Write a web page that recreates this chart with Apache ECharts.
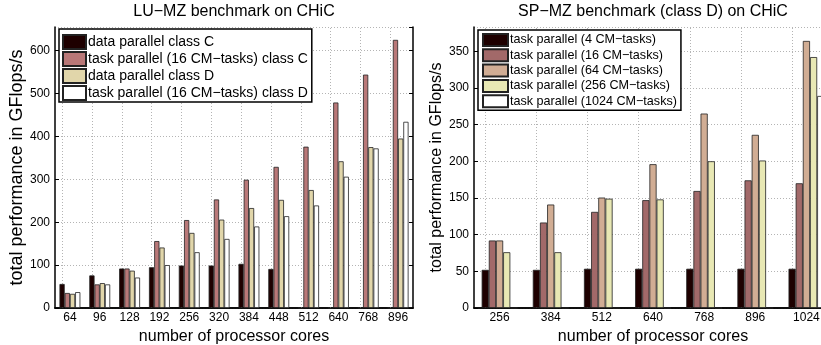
<!DOCTYPE html>
<html>
<head>
<meta charset="utf-8">
<script src="https://cdn.jsdelivr.net/npm/echarts@6/dist/echarts.min.js"></script>
<style>
html, body { margin: 0; padding: 0; background: #fff; }
#main { width: 821px; height: 345px; }
</style>
</head>
<body>
<div id="main"></div>
<script>
// LU-MZ (left)
const luCores = ['64', '96', '128', '192', '256', '320', '384', '448', '512', '640', '768', '896'];
const luDataC = [56, 76, 92, 95, 99, 99, 103, 91, 0, 0, 0, 0];
const luTaskC = [35, 55, 92, 156, 205, 253, 299, 329, 376, 479, 544, 625];
const luDataD = [33, 58, 87, 141, 175, 206, 233, 252, 275, 342, 375, 395];
const luTaskD = [37, 55, 71, 100, 130, 161, 190, 214, 239, 306, 372, 434];
const luNames = ['data parallel class C', 'task parallel (16 CM−tasks) class C', 'data parallel class D', 'task parallel (16 CM−tasks) class D'];

// SP-MZ (right)
const spCores = ['256', '384', '512', '640', '768', '896', '1024'];
const sp4 = [52, 52, 53.5, 53.5, 53.5, 53.5, 53.5];
const sp16 = [92, 116.5, 131, 147, 159.5, 174, 170];
const sp64 = [92, 141, 150.5, 196, 265, 236, 364];
const sp256 = [76, 76, 149, 148, 200, 201, 342];
const sp1024 = [0, 0, 0, 0, 0, 0, 289];
const spNames = ['task parallel (4 CM−tasks)', 'task parallel (16 CM−tasks)', 'task parallel (64 CM−tasks)', 'task parallel (256 CM−tasks)', 'task parallel (1024 CM−tasks)'];

const FONT = 'Liberation Sans';
const GRID_LINE = { color: '#b4b4b4', type: [1, 2], width: 1 };
const luColors = ['#1e0000', '#b97878', '#e1d6aa', '#ffffff'];
const spColors = ['#1e0000', '#a26969', '#d1ad94', '#e8e8b4', '#ffffff'];

const xAxes = (grid, cats) => [
	{
		type: 'category', gridIndex: grid, data: cats, position: 'bottom',
		axisLine: { lineStyle: { color: '#000', width: 1.5 } },
		axisTick: { inside: true, alignWithLabel: true, length: 4, interval: 0, lineStyle: { color: '#000' } },
		axisLabel: { color: '#000', fontSize: 12, fontFamily: FONT, margin: 4, interval: 0 },
		splitLine: { show: false },
		name: 'number of processor cores', nameLocation: 'middle', nameGap: 17,
		nameTextStyle: { color: '#000', fontSize: 16, fontFamily: FONT }
	},
	{
		type: 'category', gridIndex: grid, data: cats, position: 'top',
		axisLine: { lineStyle: { color: '#000', width: 1.5 } },
		axisTick: { inside: true, alignWithLabel: true, length: 4, interval: 0, lineStyle: { color: '#000' } },
		axisLabel: { show: false },
		splitLine: { show: false }
	}
];

const yAxes = (grid, max, step, nameSize, gap) => [
	{
		type: 'value', gridIndex: grid, min: 0, max: max, interval: step, position: 'left',
		axisLine: { show: true, lineStyle: { color: '#000', width: 1.5 } },
		axisTick: { show: true, inside: true, length: 4, lineStyle: { color: '#000' } },
		axisLabel: { color: '#000', fontSize: 12, fontFamily: FONT, margin: 5, showMaxLabel: false },
		splitLine: { show: true, lineStyle: GRID_LINE },
		name: 'total performance in GFlops/s', nameLocation: 'middle', nameGap: gap,
		nameTextStyle: { color: '#000', fontSize: nameSize, fontFamily: FONT }
	},
	{
		type: 'value', gridIndex: grid, min: 0, max: max, interval: step, position: 'right',
		axisLine: { show: true, lineStyle: { color: '#000', width: 1.5 } },
		axisTick: { show: true, inside: true, length: 4, lineStyle: { color: '#000' } },
		axisLabel: { show: false },
		splitLine: { show: false }
	}
];

// dotted vertical grid lines through the category centres (matlab style)
const centreLines = (cats) => ({
	silent: true, symbol: 'none', z: 1, animation: false,
	label: { show: false },
	lineStyle: GRID_LINE,
	emphasis: { disabled: true },
	data: cats.map(c => ({ xAxis: c }))
});

const bar = (name, data, color, axis, cats) => ({
	name: name, type: 'bar', data: data,
	xAxisIndex: axis, yAxisIndex: axis,
	barGap: '0%', barCategoryGap: '30%',
	itemStyle: { color: color, borderColor: '#222', borderWidth: 0.8 },
	emphasis: { disabled: true },
	markLine: cats ? centreLines(cats) : undefined
});

const legend = (names, left, top, size, iw, ih, gap, pad) => ({
	data: names, orient: 'vertical', left: left, top: top,
	itemWidth: iw, itemHeight: ih, itemGap: gap, padding: pad,
	backgroundColor: '#fff', borderColor: '#000', borderWidth: 1.5, borderRadius: 0,
	selectedMode: false, icon: 'rect',
	textStyle: { color: '#000', fontSize: size, fontFamily: FONT, padding: [0, 0, 0, -3] }
});

const chart = echarts.init(document.getElementById('main'), null, { renderer: 'canvas' });
chart.setOption({
	animation: false,
	title: [
		{ text: 'LU−MZ benchmark on CHiC', left: 234, top: 4, textAlign: 'center', padding: 0,
			textStyle: { color: '#000', fontSize: 16, fontWeight: 'normal', fontFamily: FONT } },
		{ text: 'SP−MZ benchmark (class D) on CHiC', left: 653, top: 4, textAlign: 'center', padding: 0,
			textStyle: { color: '#000', fontSize: 16, fontWeight: 'normal', fontFamily: FONT } }
	],
	legend: [
		legend(luNames, 59, 29, 14, 23, 14, 1, [5, 4, 1, 3]),
		legend(spNames, 478, 30, 12.6, 25, 12, 1.3, [3, 4, 2, 4])
	],
	grid: [
		{ left: 55, top: 27, width: 358, bottom: 37, outerBoundsMode: 'none', containLabel: false },
		{ left: 474, top: 27, width: 358, bottom: 37, outerBoundsMode: 'none', containLabel: false }
	],
	xAxis: [...xAxes(0, luCores), ...xAxes(1, spCores)],
	yAxis: [...yAxes(0, 655, 100, 18, 23), ...yAxes(1, 383, 50, 16, 24)],
	series: [
		bar(luNames[0], luDataC, luColors[0], 0, luCores),
		bar(luNames[1], luTaskC, luColors[1], 0),
		bar(luNames[2], luDataD, luColors[2], 0),
		bar(luNames[3], luTaskD, luColors[3], 0),
		bar(spNames[0], sp4, spColors[0], 2, spCores),
		bar(spNames[1], sp16, spColors[1], 2),
		bar(spNames[2], sp64, spColors[2], 2),
		bar(spNames[3], sp256, spColors[3], 2),
		bar(spNames[4], sp1024, spColors[4], 2)
	]
});
</script>
</body>
</html>
